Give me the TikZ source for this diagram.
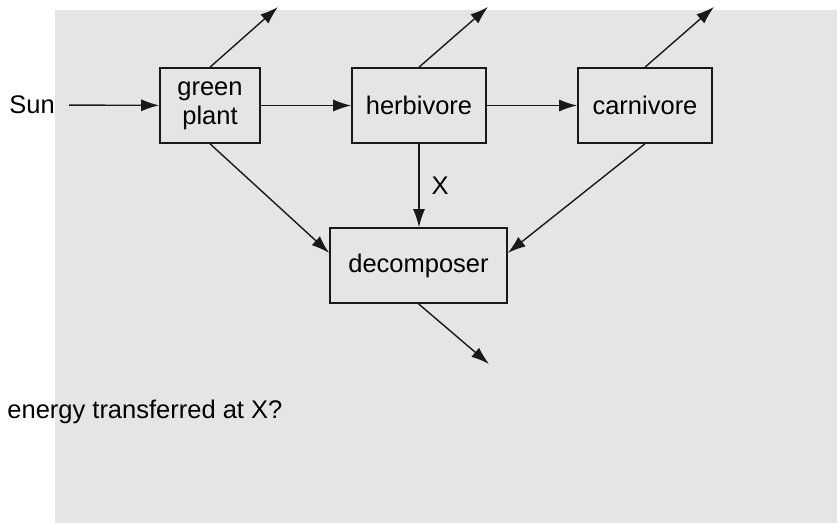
\documentclass[tikz,border=0pt]{standalone}
\usepackage{fontspec}
\setmainfont{Liberation Sans}
\usetikzlibrary{arrows.meta}
\definecolor{panelgray}{RGB}{229,229,229}
\tikzset{
	box/.style={draw=black!90, line width=0.8pt, minimum height=37.5pt, inner sep=0pt, align=center, font=\fontsize{12.75}{14.5}\selectfont},
	flow/.style={draw=black!90, line width=0.7pt, -{Latex[length=9pt, width=6pt]}},
	txt/.style={inner sep=0pt, font=\fontsize{12.75}{14.5}\selectfont}
}

\begin{document}
\begin{tikzpicture}[x=0.5pt, y=-0.5pt]
			%%%%% START %%%%%
			
			\useasboundingbox (0,0) rectangle (837,523);
			\fill[panelgray] (55,10) rectangle (837,523);
			
			\node[box, minimum width=50pt] (gp) at (210,105.5) {green\\plant};
			\node[box, minimum width=67pt] (herb) at (419,105.5) {herbivore};
			\node[box, minimum width=67pt] (carn) at (645,105.5) {carnivore};
			\node[box, minimum width=88.5pt] (dec) at (418.5,265.5) {decomposer};
			
			\node[txt, inner sep=7pt] (sun) at (32,105) {Sun};
			\node[txt, anchor=west] (quest) at (7,412) {energy transferred at X?};
			
			\coordinate (gpout) at (278,7);
			\coordinate (herbout) at (488,7);
			\coordinate (carnout) at (714,7);
			\coordinate (decout) at (489,364);
			
			\draw[flow] (sun) -- (gp);
			\draw[flow] (gp) -- (herb);
			\draw[flow] (herb) -- (carn);
			
			\draw[flow] (gp.north) -- (gpout);
			\draw[flow] (herb.north) -- (herbout);
			\draw[flow] (carn.north) -- (carnout);
			
			\draw[flow] (gp.south) -- (dec.172);
			\draw[flow] (herb.south) -- (herb.south |- dec.north) node[txt, midway, right=6pt] (xlab) {X};
			\draw[flow] (carn.south) -- (dec.8);
			\draw[flow] (dec.south) -- (decout);
			
			%%%%% END %%%%%
		\end{tikzpicture}
\end{document}
